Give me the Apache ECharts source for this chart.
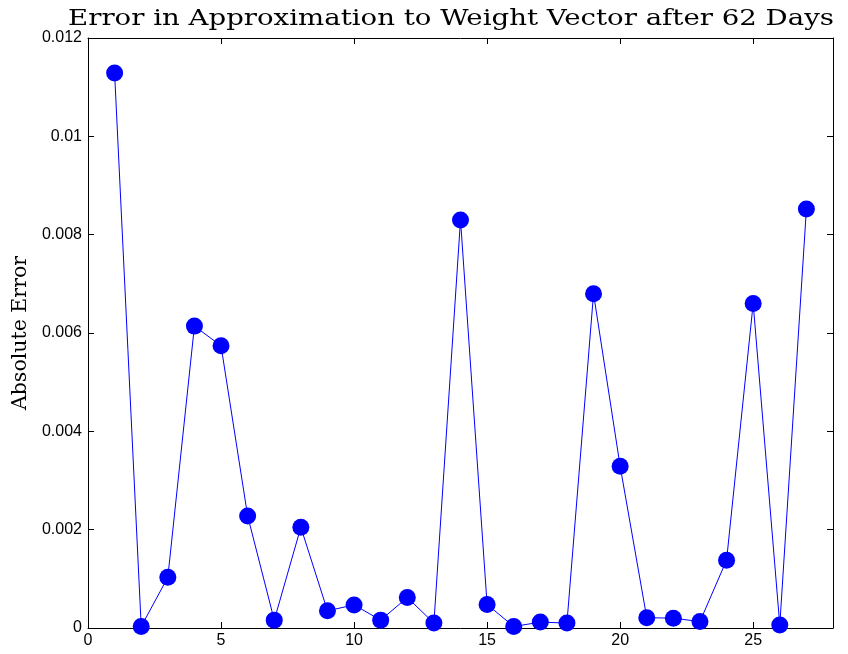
<!DOCTYPE html>
<html>
<head>
<meta charset="utf-8">
<script src="https://cdn.jsdelivr.net/npm/echarts@6/dist/echarts.min.js"></script>
<style>
  html, body { margin: 0; padding: 0; background: #ffffff; }
  #chart { width: 848px; height: 654px; }
</style>
</head>
<body>
<div id="chart"></div>
<script>
// Component index and absolute error of the weight vector approximation
const components = [1, 2, 3, 4, 5, 6, 7, 8, 9, 10, 11, 12, 13, 14, 15, 16, 17, 18, 19, 20, 21, 22, 23, 24, 25, 26, 27];
const absError = [
  0.01129, 0.00003, 0.00103, 0.00614, 0.00574, 0.00228, 0.00016, 0.00205, 0.00035,
  0.00047, 0.00016, 0.00062, 0.00010, 0.00830, 0.00048, 0.00003, 0.00012, 0.00010,
  0.00680, 0.00329, 0.00021, 0.00020, 0.00013, 0.00138, 0.00660, 0.00006, 0.00852
];
const titleText = 'Error in Approximation to Weight Vector after 62 Days';
const yName = 'Absolute Error';

const chart = echarts.init(document.getElementById('chart'), null, { renderer: 'canvas' });

const tickFont = { fontFamily: 'Liberation Sans', fontSize: 16, color: '#000' };
const boxLine = { show: true, onZero: false, lineStyle: { color: '#000', width: 1 } };
const inTick = { show: true, inside: true, length: 6, lineStyle: { color: '#000', width: 1 } };

const points = components.map((c, i) => [c, absError[i]]);

chart.setOption({
  animation: false,
  backgroundColor: '#ffffff',
  // wide, airy serif heading drawn as a horizontally stretched text element
  graphic: [
    {
      type: 'text',
      x: 451,
      y: 19,
      scaleX: 1.2,
      scaleY: 1,
      silent: true,
      style: {
        text: titleText,
        font: '23px "DejaVu Serif"',
        fill: '#000',
        align: 'center',
        verticalAlign: 'middle'
      }
    }
  ],
  grid: { left: 88, right: 15, top: 38, bottom: 26, containLabel: false },
  xAxis: [
    {
      type: 'value', position: 'bottom', min: 0, max: 28, interval: 5,
      axisLine: boxLine, axisTick: inTick, splitLine: { show: false },
      axisLabel: { ...tickFont, margin: 5, showMaxLabel: false,
        formatter: v => (v % 5 === 0 ? String(v) : '') }
    },
    {
      type: 'value', position: 'top', min: 0, max: 28, interval: 5,
      axisLine: boxLine, axisTick: inTick, splitLine: { show: false },
      axisLabel: { show: false }
    }
  ],
  yAxis: [
    {
      type: 'value', position: 'left', min: 0, max: 0.012, interval: 0.002,
      name: yName, nameLocation: 'middle', nameGap: 56, nameRotate: 90,
      nameTextStyle: { fontFamily: 'DejaVu Serif', fontSize: 20.5, color: '#000' },
      axisLine: boxLine, axisTick: inTick, splitLine: { show: false },
      axisLabel: { ...tickFont, margin: 6,
        formatter: v => (Math.abs(v) < 1e-12 ? '0' : String(+v.toFixed(4))) }
    },
    {
      type: 'value', position: 'right', min: 0, max: 0.012, interval: 0.002,
      axisLine: boxLine, axisTick: inTick, splitLine: { show: false },
      axisLabel: { show: false }
    }
  ],
  series: [
    {
      type: 'line',
      data: points,
      xAxisIndex: 0,
      yAxisIndex: 0,
      clip: false,
      symbol: 'circle',
      symbolSize: 17,
      itemStyle: { color: '#0000ff' },
      lineStyle: { color: '#0000ff', width: 1 },
      z: 5
    }
  ]
});
</script>
</body>
</html>
